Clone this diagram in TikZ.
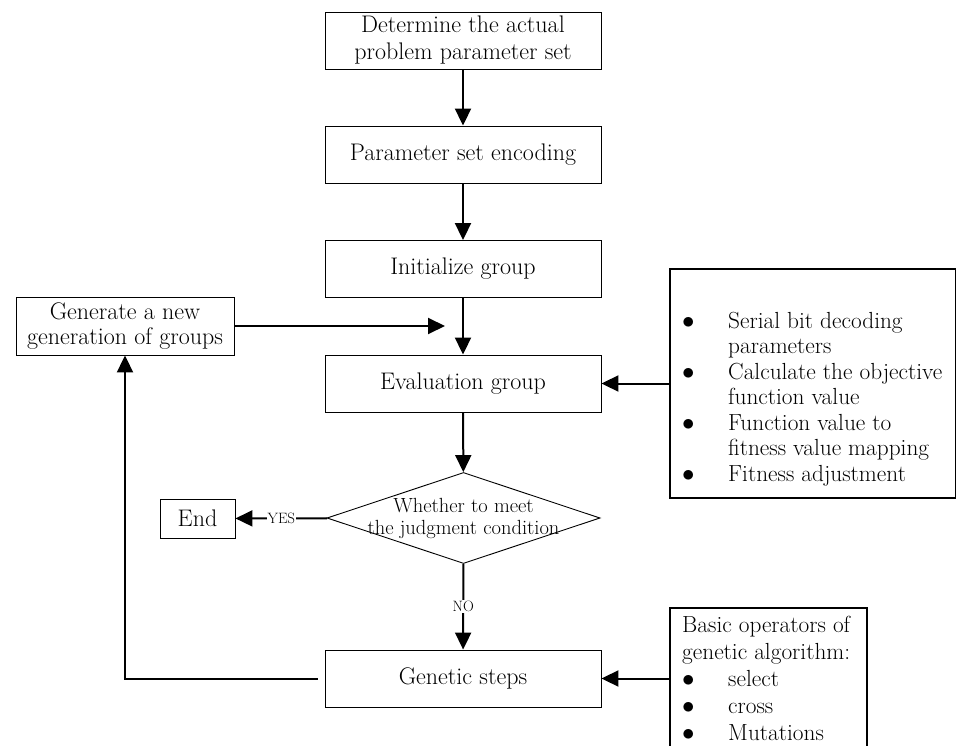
\documentclass[tikz,border=0pt]{standalone}
\usetikzlibrary{arrows.meta,shapes.geometric}

\tikzset{
    stepbox/.style={draw, line width=0.9pt, minimum width=276pt, minimum height=57pt,
        inner sep=0pt, align=center, font=\fontsize{24}{27}\selectfont},
    sidebox/.style={draw, line width=0.9pt, inner sep=0pt, align=center,
        font=\fontsize{24}{25.5}\selectfont},
    decision/.style={diamond, aspect=3, draw, line width=0.9pt, minimum width=273pt, minimum height=91pt,
        inner sep=-5pt, align=center, font=\fontsize{20.5}{22}\selectfont},
    infobox/.style={draw, line width=1.6pt, inner sep=0pt},
    infotext/.style={inner sep=0pt, anchor=north west, align=left,
        font=\fontsize{23.3}{25.5}\selectfont},
    flow/.style={line width=2pt, -{Triangle[width=16pt,length=17pt]}},
    answer/.style={fill=white, inner sep=1pt, font=\fontsize{15}{15}\selectfont}
}

\begin{document}
\begin{tikzpicture}[x=1pt, y=-1pt]
\useasboundingbox (0,0) rectangle (956,746);

% main column
\node[stepbox] (param)  at (463,40.5)  {Determine the actual\\problem parameter set};
\node[stepbox] (encode) at (463,154.5) {Parameter set encoding};
\node[stepbox] (init)   at (463,269)   {Initialize group};
\node[stepbox] (eval)   at (463,383.5) {Evaluation group};
\node[decision] (judge) at (463.5,518) {Whether to meet\\the judgment condition};
\node[stepbox] (genetic) at (463,678.5) {Genetic steps};

% left side
\node[sidebox, minimum width=218pt, minimum height=58pt] (newgen) at (125,326) {Generate a new\\generation of groups};
\node[sidebox, minimum width=75pt, minimum height=39pt] (finish) at (197.5,518.5) {End};
\coordinate (join) at (445,326);
\coordinate (turn) at (125,678.5);

% right side boxes
\node[infobox, anchor=north west, minimum width=286pt, minimum height=229pt] (decode) at (669,268) {};
\node[infotext] (decodetxt) at (682,310) {%
    \begin{tabular}{@{}p{46pt}@{}l@{}}
    $\bullet$ & Serial bit decoding\\
              & parameters\\
    $\bullet$ & Calculate the objective\\
              & function value\\
    $\bullet$ & Function value to\\
              & fitness value mapping\\
    $\bullet$ & Fitness adjustment
    \end{tabular}};
\node[infobox, anchor=north west, minimum width=197pt, minimum height=160pt] (oper) at (669,607) {};
\node[infotext, font=\fontsize{23.3}{27}\selectfont] (opertxt) at (682,613) {%
    \begin{tabular}{@{}p{46pt}@{}l@{}}
    \multicolumn{2}{@{}l@{}}{Basic operators of}\\
    \multicolumn{2}{@{}l@{}}{genetic algorithm:}\\
    $\bullet$ & select\\
    $\bullet$ & cross\\
    $\bullet$ & Mutations
    \end{tabular}};

% connectors
\draw[flow] (param) -- (encode);
\draw[flow] (encode) -- (init);
\draw[flow] (init) -- (eval);
\draw[flow] (newgen) -- (join);
\draw[flow] (eval) -- (judge);
\draw[flow] (judge) -- node[answer] {YES} (finish);
\draw[flow] (judge) -- node[answer] {NO} (genetic);
\draw[flow] (decode.west |- eval) -- (eval);
\draw[flow] (oper.west |- genetic) -- (genetic);
\draw[flow, shorten <=7pt] (genetic.west) -- (turn) -- (newgen);

\end{tikzpicture}
\end{document}
